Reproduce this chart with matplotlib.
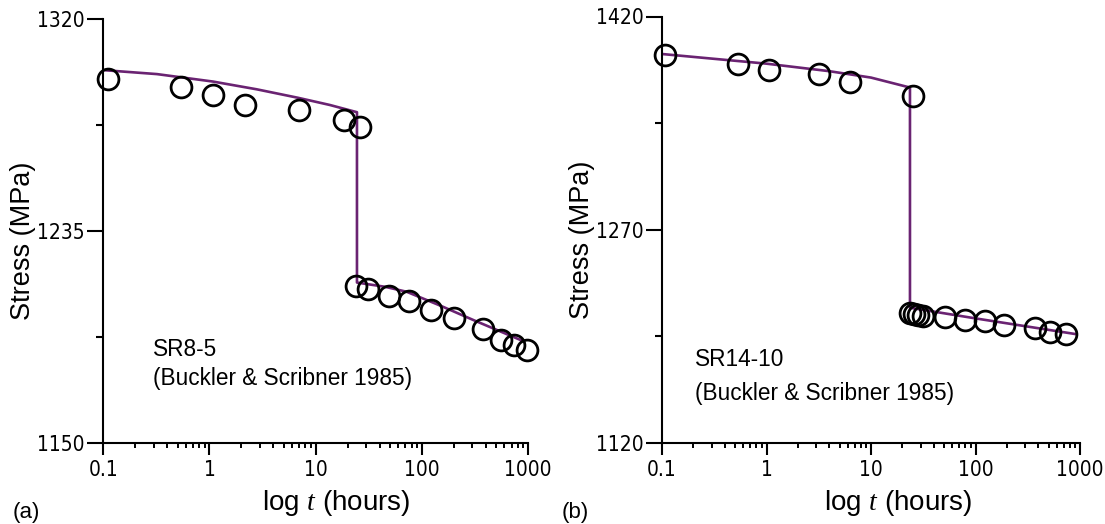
import matplotlib
matplotlib.use("Agg")
import matplotlib.pyplot as plt
from matplotlib.ticker import LogLocator, FixedLocator, NullFormatter, FixedFormatter
from matplotlib import font_manager
from matplotlib.font_manager import FontProperties

# ---------------- data ----------------
# Panel (a) SR8-5
a_t_obs = [0.11, 0.54, 1.08, 2.16, 6.9, 18.5, 26,
           24, 31, 49.5, 76, 121, 203, 378, 553, 745, 983]
a_s_obs = [1296.0, 1293.0, 1289.6, 1285.7, 1283.6, 1279.5, 1276.6,
           1213.0, 1211.9, 1209.0, 1207.0, 1203.3, 1199.9, 1195.5, 1191.2, 1189.2, 1187.3]
a_t_fit = [0.1, 0.32, 1.08, 2.78, 6.8, 13.6, 24.5, 24.5, 45, 72, 150, 304, 900]
a_s_fit = [1299.6, 1298.0, 1295.0, 1291.9, 1288.5, 1285.6, 1282.7,
           1214.3, 1212.6, 1210.6, 1205.0, 1199.3, 1190.8]

# Panel (b) SR14-10
b_t_obs = [0.108, 0.531, 1.06, 3.19, 6.33, 25.3,
           23.4, 25.6, 28, 31.5, 51, 80, 124, 189, 374, 515, 735]
b_s_obs = [1392.9, 1386.5, 1382.2, 1379.8, 1374.0, 1364.1,
           1211.3, 1210.5, 1210.0, 1209.3, 1208.4, 1206.6, 1205.7, 1202.8, 1200.4, 1197.8, 1196.7]
b_t_fit = [0.1, 1, 4, 10, 23.6, 23.6, 100, 300, 900]
b_s_fit = [1393.6, 1386.8, 1381.5, 1377.0, 1370.0, 1215.0, 1207.5, 1202.0, 1196.5]

a_yticks = [1150, 1235, 1320]
a_yminor = [1192.5, 1277.5]
b_yticks = [1120, 1270, 1420]
b_yminor = [1195, 1345]
xticks = [0.1, 1, 10, 100, 1000]
xticklabels = ["0.1", "1", "10", "100", "1000"]

a_note = ["SR8-5", "(Buckler & Scribner 1985)"]
b_note = ["SR14-10", "(Buckler & Scribner 1985)"]

# ---------------- style ----------------
plt.rcParams["font.family"] = ["Liberation Sans", "DejaVu Sans"]
plt.rcParams["mathtext.fontset"] = "custom"
plt.rcParams["mathtext.rm"] = "Liberation Sans"
plt.rcParams["mathtext.it"] = "Liberation Serif:italic"


def pick_narrow():
    fl = font_manager.fontManager.ttflist
    for f in fl:
        if f.name == "Liberation Sans Narrow" and f.style == "normal" and f.weight in (400, "normal", "regular"):
            return FontProperties(fname=f.fname), 15
    for fam in ["Liberation Sans", "Roboto", "Open Sans", "Noto Sans", "DejaVu Sans"]:
        for f in fl:
            if (f.name == fam and f.style == "normal" and f.weight in (400, "normal", "regular")
                    and f.stretch in ("condensed", "semi-condensed", "extra-condensed")):
                return FontProperties(fname=f.fname), 15
    return FontProperties(family="Liberation Sans"), 14


TICK_FP, TICK_FS = pick_narrow()

LINE_C = "#6a2372"
W, H = 1105, 524
fig = plt.figure(figsize=(W / 100, H / 100), dpi=100)


def px_axes(l, t, r, b):
    return fig.add_axes([l / W, (H - b) / H, (r - l) / W, (b - t) / H])


def style(ax, yt, ym, t_obs, s_obs, t_fit, s_fit):
    ax.plot(t_fit, s_fit, color=LINE_C, lw=1.9, zorder=2)
    ax.plot(t_obs, s_obs, ls="none", marker="o", ms=15, mfc="none",
            mec="black", mew=2.0, zorder=3, clip_on=False)
    ax.set_xscale("log")
    ax.set_xlim(0.1, 1000)
    ax.set_ylim(yt[0], yt[-1])
    for s in ["top", "right"]:
        ax.spines[s].set_visible(False)
    for s in ["left", "bottom"]:
        ax.spines[s].set_linewidth(1.5)
    ax.xaxis.set_major_locator(FixedLocator(xticks))
    ax.xaxis.set_major_formatter(FixedFormatter(xticklabels))
    ax.xaxis.set_minor_locator(LogLocator(base=10, subs=range(2, 10)))
    ax.xaxis.set_minor_formatter(NullFormatter())
    ax.yaxis.set_major_locator(FixedLocator(yt))
    ax.yaxis.set_minor_locator(FixedLocator(ym))
    ax.tick_params(axis="x", which="major", length=8.5, width=1.5, direction="out", pad=4)
    ax.tick_params(axis="x", which="minor", length=3.8, width=1.4, direction="out")
    ax.tick_params(axis="y", which="major", length=11.5, width=1.5, direction="out", pad=2)
    ax.tick_params(axis="y", which="minor", length=5, width=1.5, direction="out")
    for lab in ax.get_xticklabels() + ax.get_yticklabels():
        lab.set_fontproperties(TICK_FP)
        lab.set_fontsize(TICK_FS)
    ax.set_xlabel(r"log $\mathit{t}$ (hours)", fontsize=20, va="baseline")
    ax.set_ylabel("Stress (MPa)", fontsize=19.5, va="center")


ax1 = px_axes(103.3, 19.3, 528, 442.7)
style(ax1, a_yticks, a_yminor, a_t_obs, a_s_obs, a_t_fit, a_s_fit)
ax1.xaxis.set_label_coords(0.549, -0.159)
ax1.yaxis.set_label_coords(-0.188, 0.476)
ax1.text(0.117, 0.205, a_note[0], transform=ax1.transAxes, fontsize=16.3, va="baseline")
ax1.text(0.117, 0.136, a_note[1], transform=ax1.transAxes, fontsize=16.3, va="baseline")

ax2 = px_axes(662, 16.5, 1080, 442.7)
style(ax2, b_yticks, b_yminor, b_t_obs, b_s_obs, b_t_fit, b_s_fit)
ax2.xaxis.set_label_coords(0.566, -0.159)
ax2.yaxis.set_label_coords(-0.192, 0.476)
ax2.text(0.078, 0.180, b_note[0], transform=ax2.transAxes, fontsize=16.3, va="baseline")
ax2.text(0.078, 0.100, b_note[1], transform=ax2.transAxes, fontsize=16.3, va="baseline")

fig.text(13 / W, (H - 518) / H, "(a)", fontsize=16, va="baseline", ha="left")
fig.text(562 / W, (H - 518) / H, "(b)", fontsize=16, va="baseline", ha="left")

fig.savefig("out.png", dpi=100)
